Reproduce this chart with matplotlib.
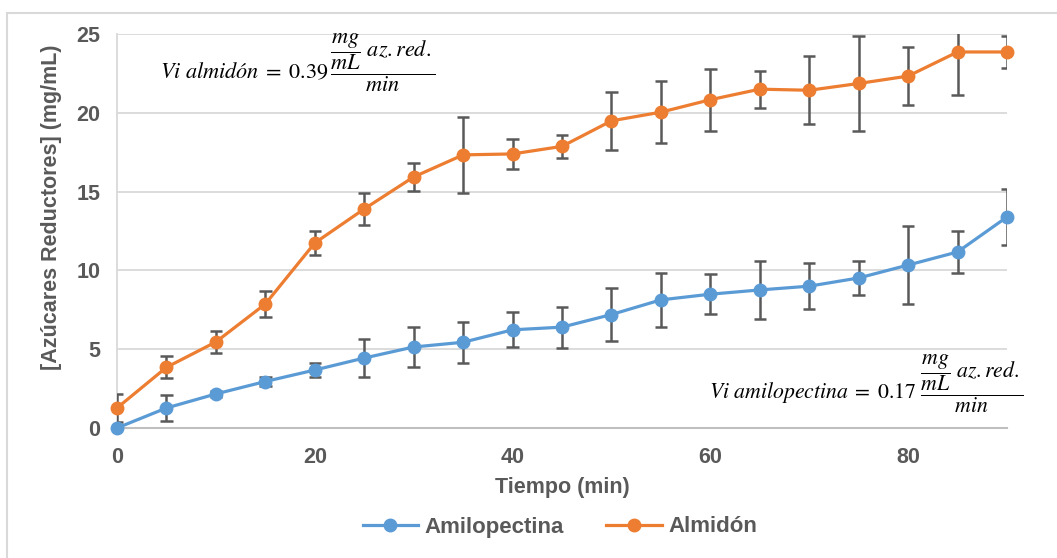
import matplotlib.pyplot as plt
from matplotlib.patches import Rectangle
from matplotlib.lines import Line2D

plt.rcParams['mathtext.fontset'] = 'stix'
plt.rcParams['font.family'] = ['Liberation Sans', 'DejaVu Sans']

# data
tiempo = [0, 5, 10, 15, 20, 25, 30, 35, 40, 45, 50, 55, 60, 65, 70, 75, 80, 85, 90]
amilopectina = [0.0, 1.27, 2.16, 2.95, 3.68, 4.44, 5.14, 5.44, 6.23, 6.40, 7.20, 8.13,
                8.49, 8.76, 9.00, 9.52, 10.34, 11.17, 13.39]
amilopectina_err = [0.0, 0.83, 0.2, 0.3, 0.44, 1.2, 1.27, 1.3, 1.1, 1.3, 1.67, 1.7,
                    1.26, 1.85, 1.46, 1.05, 2.45, 1.33, 1.75]
almidon = [1.27, 3.85, 5.46, 7.87, 11.74, 13.9, 15.93, 17.33, 17.39, 17.87, 19.49, 20.04,
           20.83, 21.5, 21.43, 21.86, 22.33, 23.86, 23.86]
almidon_err = [0.9, 0.7, 0.7, 0.82, 0.76, 1.0, 0.9, 2.4, 0.95, 0.75, 1.85, 1.97,
               1.97, 1.17, 2.16, 3.0, 1.85, 2.7, 1.0]

azul = '#5b9bd5'
naranja = '#ed7d31'
gris = '#595959'
fs = 15.5

W, H = 1057, 558
fig = plt.figure(figsize=(W / 100, H / 100), dpi=100)
ax = fig.add_axes([117 / W, 1 - 428 / H, 890 / W, 394 / H])

# outer chart border (cropped at right and bottom in the reference)
fig.patches.append(Rectangle((7 / W, -0.1), 1.2, 1 - 13 / H + 0.1, transform=fig.transFigure,
                             fill=False, edgecolor='#d9d9d9', linewidth=1.5))

# error bars; caps as hlines so they get clipped at the plot edges like the original
cap = 0.63
for y, e in [(amilopectina, amilopectina_err), (almidon, almidon_err)]:
    ax.errorbar(tiempo, y, yerr=e, fmt='none', ecolor=gris, elinewidth=1.8, capsize=0, zorder=3)
    for xi, yi, ei in zip(tiempo, y, e):
        if ei > 0:
            ax.hlines([yi - ei, yi + ei], xi - cap, xi + cap, color=gris, lw=1.8, zorder=3)

ax.plot(tiempo, amilopectina, color=azul, lw=2.3, marker='o', ms=9, clip_on=False, zorder=4)
ax.plot(tiempo, almidon, color=naranja, lw=2.3, marker='o', ms=9, clip_on=False, zorder=5)

ax.set_xlim(0, 90)
ax.set_ylim(0, 25)
ax.set_xticks([0, 20, 40, 60, 80])
ax.set_yticks([0, 5, 10, 15, 20, 25])
ax.yaxis.grid(True, color='#d9d9d9', lw=1.3)
ax.set_axisbelow(True)
for s in ['top', 'right']:
    ax.spines[s].set_visible(False)
ax.spines['left'].set_color('#d9d9d9')
ax.spines['left'].set_linewidth(1.3)
ax.spines['bottom'].set_color('#bfbfbf')
ax.spines['bottom'].set_linewidth(1.5)
ax.tick_params(axis='x', length=0, labelsize=fs, labelcolor=gris, pad=14)
ax.tick_params(axis='y', length=0, labelsize=fs, labelcolor=gris, pad=12)
for lbl in ax.get_xticklabels() + ax.get_yticklabels():
    lbl.set_fontweight('bold')

ax.set_xlabel('Tiempo (min)', fontsize=fs, fontweight='bold', color=gris)
ax.xaxis.set_label_coords(0.5, -(487 - 428) / 394)
ax.set_ylabel('[Azúcares Reductores] (mg/mL)', fontsize=fs, fontweight='bold', color=gris)
ax.yaxis.set_label_coords(-(117 - 52) / 890, (428 - 207) / 394)
ax.xaxis.label.set_va('center')
ax.yaxis.label.set_va('center')

ax.text(4.3, 23.2, r'$Vi\ almidón\;=\;0.39\,\dfrac{\dfrac{mg}{mL}\ az.red.}{min}$',
        fontsize=16, color='black', ha='left', va='center', clip_on=False)
ax.text(59.9, 2.8, r'$Vi\ amilopectina\;=\;0.17\ \dfrac{\dfrac{mg}{mL}\ az.red.}{min}$',
        fontsize=15.7, color='black', ha='left', va='center', clip_on=False)

handles = [Line2D([], [], color=azul, lw=2.3, marker='o', ms=9),
           Line2D([], [], color=naranja, lw=2.3, marker='o', ms=9)]
leg = fig.legend(handles, ['Amilopectina', 'Almidón'], loc='center', ncol=2,
                 bbox_to_anchor=(560 / W, 1 - 527 / H), frameon=False, fontsize=16,
                 handlelength=2.5, columnspacing=1.9, handletextpad=0.3)
for t in leg.get_texts():
    t.set_color(gris)
    t.set_fontweight('bold')

fig.savefig('out.png', dpi=100)
